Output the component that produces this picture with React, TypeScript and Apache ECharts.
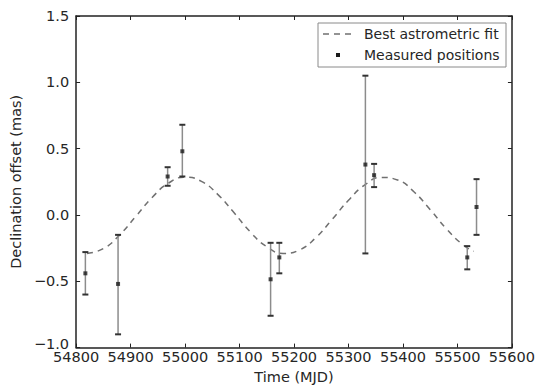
import React, { useEffect, useRef } from "react";
import * as echarts from "echarts";

// Measured positions (MJD, declination offset in mas) with error bar ends
const mjd = [54817, 54877, 54968, 54995, 55157, 55173, 55331, 55347, 55518, 55535];
const dec = [-0.44, -0.52, 0.29, 0.48, -0.485, -0.32, 0.38, 0.3, -0.32, 0.06];
const errLow = [-0.6, -0.9, 0.22, 0.29, -0.76, -0.44, -0.29, 0.21, -0.41, -0.15];
const errHigh = [-0.28, -0.15, 0.36, 0.68, -0.21, -0.21, 1.05, 0.385, -0.235, 0.27];

// Best astrometric fit curve
const fitMjd = [54820, 54850, 54880, 54910, 54940, 54970, 55000, 55030, 55060, 55090, 55120, 55150, 55180, 55210, 55240, 55270, 55300, 55330, 55360, 55390, 55420, 55450, 55480, 55510, 55530];
const fitDec = [-0.29, -0.254, -0.15, -0.009, 0.134, 0.241, 0.285, 0.253, 0.155, 0.016, -0.129, -0.24, -0.29, -0.264, -0.171, -0.034, 0.111, 0.227, 0.283, 0.264, 0.175, 0.04, -0.106, -0.225, -0.274];

const legendLabels = ["Best astrometric fit", "Measured positions"];

const FONT = "DejaVu Sans";
const TEXT = "#262626";
const FRAME = "#222";

export default function App() {
  const ref = useRef<HTMLDivElement>(null);
  useEffect(() => {
    document.body.style.margin = "0";
    const chart = echarts.init(ref.current!, null, { renderer: "svg" });
    const gl = 74, gr = 512, gt = 16, gb = 355;
    const fmtY = (v: number) => {
      const s = v.toFixed(1).replace("-", "\u2212");
      return v <= -1 ? `{low|${s}}` : s;
    };
    const axisCommon = {
      type: "value" as const,
      splitLine: { show: false },
      axisLine: { show: true, onZero: false, lineStyle: { color: FRAME, width: 1.5 } },
      axisTick: { show: true, inside: true, length: 4, lineStyle: { color: FRAME, width: 1 } },
    };
    chart.setOption({
      animation: false,
      backgroundColor: "#fff",
      grid: { left: gl, right: 538 - gr, top: gt, bottom: 389 - gb, containLabel: false },
      xAxis: [
        {
          ...axisCommon,
          position: "bottom",
          min: 54800,
          max: 55600,
          interval: 100,
          axisLabel: { color: TEXT, fontFamily: FONT, fontSize: 14.5, lineHeight: 12, margin: 3, formatter: (v: number) => String(v) },
          name: "Time (MJD)",
          nameLocation: "middle",
          nameGap: 18,
          nameTextStyle: { color: TEXT, fontFamily: FONT, fontSize: 14.5 },
        },
        {
          ...axisCommon,
          position: "top",
          min: 54800,
          max: 55600,
          interval: 100,
          axisLabel: { show: false },
        },
      ],
      yAxis: [
        {
          ...axisCommon,
          position: "left",
          min: -1,
          max: 1.5,
          interval: 0.5,
          axisLabel: {
            color: TEXT,
            fontFamily: FONT,
            fontSize: 14.5,
            lineHeight: 10,
            margin: 7,
            formatter: fmtY,
            rich: {
              low: { color: TEXT, fontFamily: FONT, fontSize: 14.5, lineHeight: 10, padding: [0, 0, 8, 0] },
            },
          },
          name: "Declination offset (mas)",
          nameLocation: "middle",
          nameGap: 41,
          nameTextStyle: { color: TEXT, fontFamily: FONT, fontSize: 14.5 },
        },
        {
          ...axisCommon,
          position: "right",
          min: -1,
          max: 1.5,
          interval: 0.5,
          axisLabel: { show: false },
        },
      ],
      series: [
        {
          type: "line",
          name: legendLabels[0],
          data: fitMjd.map((m, i) => [m, fitDec[i]]),
          smooth: true,
          showSymbol: false,
          lineStyle: { color: "#707070", width: 1.5, type: [6, 5] },
          z: 2,
        },
        {
          type: "custom",
          name: "errors",
          data: mjd.map((m, i) => [m, dec[i], errLow[i], errHigh[i]]),
          encode: { x: 0, y: 1 },
          renderItem: (params: any, api: any) => {
            const x = api.value(0);
            const top = api.coord([x, api.value(3)]);
            const bot = api.coord([x, api.value(2)]);
            const cap = 3;
            return {
              type: "group",
              children: [
                { type: "line", shape: { x1: top[0], y1: top[1], x2: bot[0], y2: bot[1] }, style: { stroke: "#8c8c8c", lineWidth: 1.5 } },
                { type: "line", shape: { x1: top[0] - cap, y1: top[1], x2: top[0] + cap, y2: top[1] }, style: { stroke: "#333", lineWidth: 2 } },
                { type: "line", shape: { x1: bot[0] - cap, y1: bot[1], x2: bot[0] + cap, y2: bot[1] }, style: { stroke: "#333", lineWidth: 2 } },
              ],
            };
          },
          z: 3,
        },
        {
          type: "scatter",
          name: legendLabels[1],
          data: mjd.map((m, i) => [m, dec[i]]),
          symbol: "rect",
          symbolSize: 4,
          itemStyle: { color: "#1a1a1a" },
          z: 4,
        },
      ],
      graphic: [
        { type: "rect", shape: { x: 318, y: 23, width: 188, height: 44 }, style: { fill: "#fff", stroke: "#8a8a8a", lineWidth: 1 }, z: 10 },
        { type: "line", shape: { x1: 323, y1: 34, x2: 353, y2: 34 }, style: { stroke: "#707070", lineWidth: 1.5, lineDash: [6, 5] }, z: 11 },
        { type: "rect", shape: { x: 336, y: 53, width: 4, height: 4 }, style: { fill: "#1a1a1a" }, z: 11 },
        { type: "text", x: 364, y: 34, style: { text: legendLabels[0], fill: TEXT, font: `14px "${FONT}"`, textVerticalAlign: "middle", verticalAlign: "middle" }, z: 11 },
        { type: "text", x: 364, y: 55, style: { text: legendLabels[1], fill: TEXT, font: `14px "${FONT}"`, textVerticalAlign: "middle", verticalAlign: "middle" }, z: 11 },
      ],
    });
    return () => chart.dispose();
  }, []);
  return <div ref={ref} style={{ position: "fixed", left: 0, top: 0, width: 538, height: 389 }} />;
}
